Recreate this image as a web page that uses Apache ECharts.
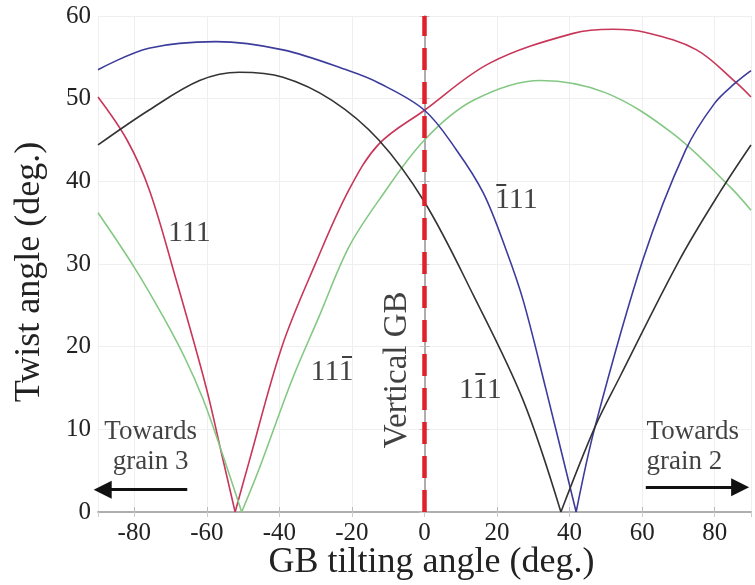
<!DOCTYPE html>
<html>
<head>
<meta charset="utf-8">
<script src="https://cdn.jsdelivr.net/npm/echarts@6/dist/echarts.min.js"></script>
<style>html,body{margin:0;padding:0;background:#fff}#c{width:755px;height:585px}</style>
</head>
<body>
<div id="c"></div>
<script>
// ---- data ----
const redCurve = [[-90,50.2],[-82,45],[-75.8,38.9],[-68.4,28],[-60.2,15.1],[-55.8,6.8],[-52.2,0],[-48.4,6.0],[-39.3,20],[-30,30.1],[-20.9,38.9],[-12.6,44.5],[0,48.6],[18,54.3],[41,57.9],[52,58.4],[61,58],[75,55.9],[86,51.9],[90,50.2]];
const blueCurve = [[-90,53.5],[-76,56.1],[-57.5,56.9],[-39,55.9],[-21,53.4],[-12.6,51.9],[0,48.6],[8.8,43.8],[16.2,38.6],[22.5,31.7],[27.2,25.6],[33.5,14.8],[41.8,0],[47,10.3],[60.2,30.5],[72,43.8],[79.9,49.4],[85.7,51.9],[90,53.4]];
const greenCurve = [[-90,36.2],[-80,29.6],[-72,23.6],[-66,18.6],[-61,13.6],[-56,7.4],[-50.4,0],[-45.6,5.2],[-36.5,16],[-29.1,23.6],[-20.9,32],[-12.6,37.7],[0,45],[13.5,49.8],[32,52.2],[50,50.7],[68.4,45.8],[84.3,39.3],[90,36.5]];
const blackCurve = [[-90,44.4],[-76,48.6],[-62,52.2],[-51,53.2],[-39,52.6],[-25.5,49.8],[-12.6,45],[0,37.5],[13.5,26.2],[27.2,13.5],[37.6,0],[47,10.3],[53.8,16.3],[70.3,30.5],[81.3,38.6],[90,44.4]];
const verticalGB = 0;
// curve labels: text, position (data units), index of the barred digit (-1 = none)
const curveLabels = [
  {text:'111', x:-64.8, y:33.7, bar:-1},
  {text:'111', x:25.3, y:37.7, bar:0},
  {text:'111', x:-25.5, y:16.9, bar:2},
  {text:'111', x:15.4, y:14.8, bar:1}
];
const vLabel = {text:'Vertical GB', x:-7.5, y:17.2};
const towards3 = {text:'Towards\ngrain 3', x:-75.5, y:7.9};
const towards2 = {text:'Towards\ngrain 2', x:61.2, y:7.9};
const arrow3 = [[-65.4,2.7],[-88.7,2.7]];
const arrow2 = [[61,3.0],[87,3.0]];

const SERIF = '"Liberation Serif","Times New Roman",serif';
const LABEL_FONT = 30;
const X_PER_PX = 180 / 653, Y_PER_PX = 60 / 496;
const curves = [
  {data:redCurve, color:'#c8365a'},
  {data:greenCurve, color:'#84c884'},
  {data:blueCurve, color:'#3c3c9c'},
  {data:blackCurve, color:'#333333'}
];
const series = [];
curves.forEach(c => {
  const iz = c.data.findIndex(p => p[1] === 0);
  [c.data.slice(0, iz+1), c.data.slice(iz)].forEach(seg => {
    series.push({type:'line', data:seg, smooth:0.35, symbol:'none', silent:true,
      lineStyle:{color:c.color, width:1.6}, z:3});
  });
});
// vertical GB dashed line
series.push({type:'line', data:[], silent:true, z:4,
  markLine:{silent:true, symbol:['none','none'], label:{show:false},
    lineStyle:{color:'#e0202a', width:4.5, type:[22,12]},
    data:[[{coord:[verticalGB,0]},{coord:[verticalGB,60]}]]}
});
// arrows
series.push({type:'line', data:[], silent:true, z:5,
  markLine:{silent:true, symbol:['none','triangle'], symbolSize:18, label:{show:false},
    lineStyle:{color:'#111', width:3, type:'solid'},
    data:[[{coord:arrow3[0]},{coord:arrow3[1]}],[{coord:arrow2[0]},{coord:arrow2[1]}]]}
});
// overbars of the Miller indices
const digitW = LABEL_FONT * 0.5;
const bars = curveLabels.filter(a => a.bar >= 0).map(a => {
  const cx = a.x + (a.bar - 1) * digitW * X_PER_PX;
  const half = 5 * X_PER_PX;
  const yb = a.y + 16 * Y_PER_PX;
  return [{coord:[cx - half, yb]}, {coord:[cx + half, yb]}];
});
series.push({type:'line', data:[], silent:true, z:6,
  markLine:{silent:true, symbol:['none','none'], label:{show:false},
    lineStyle:{color:'#111', width:1.6, type:'solid'}, data:bars}
});
// text annotations
const labelData = curveLabels.map(a => ({value:[a.x,a.y], label:{formatter:a.text, fontSize:LABEL_FONT}}));
labelData.push({value:[vLabel.x,vLabel.y], label:{formatter:vLabel.text, fontSize:33, rotate:90}});
labelData.push({value:[towards3.x,towards3.y], label:{formatter:towards3.text, fontSize:27, align:'center', lineHeight:30}});
labelData.push({value:[towards2.x,towards2.y], label:{formatter:towards2.text, fontSize:27, align:'left', lineHeight:30}});
series.push({type:'scatter', data:labelData, symbolSize:0, silent:true, z:6,
  label:{show:true, position:'inside', color:'#111', fontFamily:SERIF}});

const chart = echarts.init(document.getElementById('c'), null, {renderer:'canvas'});
chart.setOption({
  animation:false,
  backgroundColor:'#fff',
  grid:{left:98, right:4, top:16, bottom:73, containLabel:false, outerBoundsMode:'none'},
  xAxis:[{type:'value', min:-90, max:90, splitNumber:9,
    axisLine:{show:true, lineStyle:{color:'#aaa', width:1.5}},
    axisTick:{show:true, inside:true, length:5, lineStyle:{color:'#bbb'}},
    axisLabel:{showMinLabel:false, showMaxLabel:false, color:'#222', fontFamily:SERIF, fontSize:25, margin:9},
    splitLine:{show:true, lineStyle:{color:'#efefef'}},
    name:'GB tilting angle (deg.)', nameLocation:'middle', nameGap:33, nameMoveOverlap:false,
    nameTextStyle:{fontFamily:SERIF, fontSize:36, color:'#222', padding:[0,0,0,14]}},
    {type:'value', min:-90, max:90, splitNumber:9, position:'top',
    axisLine:{show:true, lineStyle:{color:'#aaa', width:1.5}},
    axisTick:{show:true, inside:true, length:5, lineStyle:{color:'#ccc'}},
    axisLabel:{show:false}, splitLine:{show:false}}],
  yAxis:[{type:'value', min:0, max:60, interval:10,
    axisLine:{show:true, lineStyle:{color:'#aaa', width:1.5}},
    axisTick:{show:true, inside:true, length:5, lineStyle:{color:'#bbb'}},
    axisLabel:{color:'#222', fontFamily:SERIF, fontSize:25, margin:7},
    splitLine:{show:true, lineStyle:{color:'#efefef'}},
    name:'Twist angle (deg.)', nameLocation:'middle', nameGap:50, nameRotate:90,
    nameTextStyle:{fontFamily:SERIF, fontSize:36, color:'#222', padding:[0,16,0,0]}},
    {type:'value', min:0, max:60, interval:10, position:'right',
    axisLine:{show:true, lineStyle:{color:'#aaa', width:1.5}},
    axisTick:{show:true, inside:true, length:5, lineStyle:{color:'#ccc'}},
    axisLabel:{show:false}, splitLine:{show:false}}],
  series:series
});
</script>
</body>
</html>
